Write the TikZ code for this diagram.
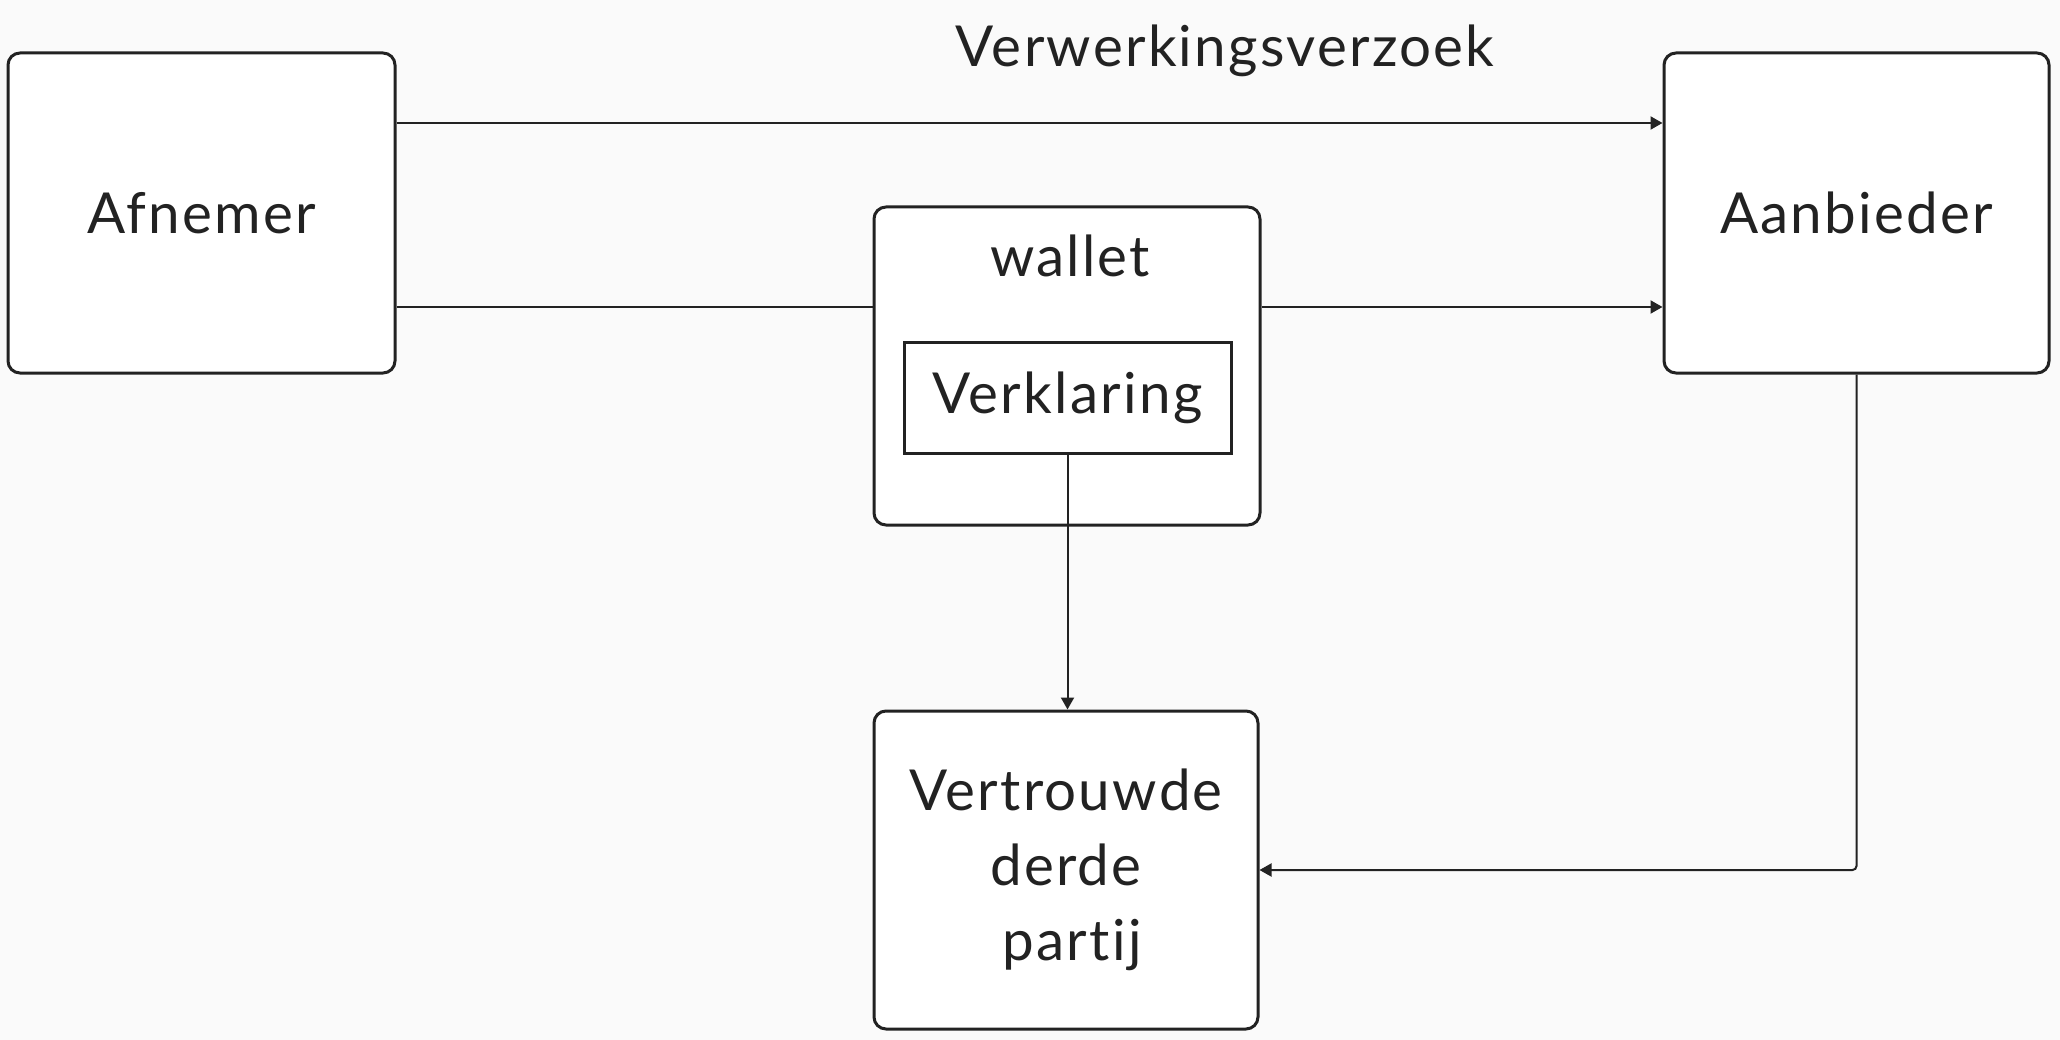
\documentclass[tikz,border=0pt]{standalone}
\usepackage{fontspec}
\setmainfont{Lato}[LetterSpace=4, Ligatures={NoCommon}]
\usetikzlibrary{arrows.meta,calc}
\definecolor{bgc}{HTML}{FAFAFA}
\definecolor{ink}{HTML}{222222}
\begin{document}
\begin{tikzpicture}[x=1pt,y=-1pt,
  every node/.style={text=ink},
  bigtxt/.style={font=\fontsize{56.5}{75}\selectfont},
  rbox/.style={draw=ink, line width=3pt, fill=white, rounded corners=12pt, inner sep=0pt, bigtxt, align=center},
  sbox/.style={draw=ink, line width=3pt, fill=white, inner sep=0pt, bigtxt},
  conn/.style={draw=ink, line width=2pt},
  arr/.style={conn, -{Triangle[length=12pt,width=13pt]}}]
\useasboundingbox (0,0) rectangle (2060,1040);
\fill[bgc] (0,0) rectangle (2060,1040);

\node[rbox, minimum width=387pt, minimum height=320pt] (afn) at (201.5,213) {Afnemer};
\node[rbox, minimum width=385pt, minimum height=320pt] (aan) at (1856.5,213) {Aanbieder};
\node[rbox, minimum width=386pt, minimum height=318pt] (wal) at (1067,366) {};
\node[bigtxt, anchor=base] (waltxt) at (1070,277) {wallet};
\node[sbox, minimum width=327pt, minimum height=111pt] (ver) at (1067.5,397.5) {Verklaring};
\node[rbox, minimum width=384pt, minimum height=318pt] (vtd) at (1066,870) {Vertrouwde\\derde\\\hspace*{12pt}par{}tij};
\node[bigtxt, anchor=base] (lbl) at (1225,67) {Verwerkingsverzoek};

\coordinate (a1) at ([yshift=90pt]afn.east);
\coordinate (a2) at ([yshift=-94pt]afn.east);
\coordinate (b1) at ([yshift=90pt]aan.west);
\coordinate (b2) at ([yshift=-94pt]aan.west);

\draw[arr] (a1) -- (b1);
\draw[conn] (a2) -- (wal.west |- a2);
\draw[arr] (wal.east |- b2) -- (b2);
\draw[arr] (ver.south) -- (ver.south |- vtd.north);
\draw[arr, rounded corners=4pt] (aan.south) |- (vtd.east);
\end{tikzpicture}
\end{document}
